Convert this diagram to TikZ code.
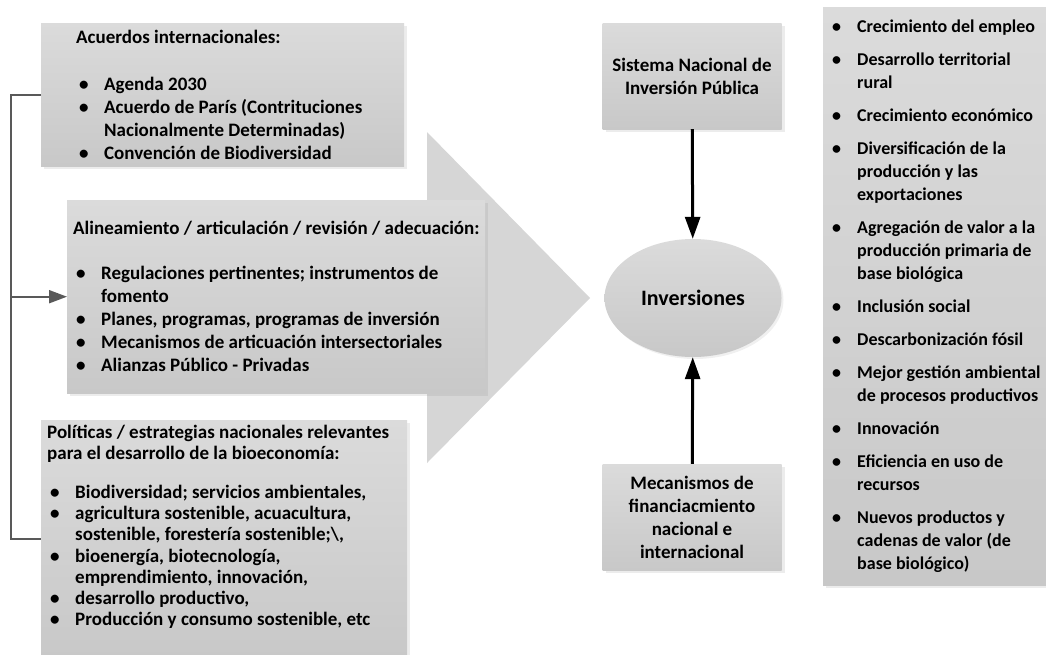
\documentclass[tikz,border=0pt]{standalone}
\usepackage{fontspec}
\setmainfont{Carlito}
\usepackage{tikz}
\usetikzlibrary{arrows.meta,positioning,calc,shapes.geometric,shadows}
\definecolor{paneltop}{HTML}{DBDBDB}
\definecolor{panelbot}{HTML}{C8C8C8}
\definecolor{arrowgray}{HTML}{D6D6D6}
\definecolor{linkgray}{HTML}{595959}
\newcommand{\itm}{\makebox[28pt][l]{\hspace{3pt}\textbullet}}
\newcommand{\cnt}{\hspace*{28pt}}

\begin{document}
\begin{tikzpicture}[x=1pt,y=-1pt,
  font=\fontsize{19}{23}\selectfont\bfseries,
  panel/.style={anchor=north west,top color=paneltop,bottom color=panelbot,
    drop shadow={shadow xshift=3pt,shadow yshift=-3pt,opacity=0.15},
    align=flush left,inner ysep=0pt},
  cbox/.style={top color=paneltop,bottom color=panelbot,
    drop shadow={shadow xshift=3pt,shadow yshift=-3pt,opacity=0.15},
    align=center,minimum width=179,minimum height=106,inner sep=2pt},
  oval/.style={ellipse,top color=paneltop,bottom color=panelbot,
    drop shadow={shadow xshift=2pt,shadow yshift=-2pt,opacity=0.12},
    minimum width=177,minimum height=118,font=\fontsize{22}{26}\selectfont\bfseries},
  link/.style={draw=linkgray,line width=2pt},
  push/.style={-{Triangle[length=22pt,width=15pt]},line width=3pt,draw=black}
]
  \useasboundingbox (0,0) rectangle (1046,654);
  \clip (0,0) rectangle (1046,654);

  \fill[arrowgray] (67,200) -- (427,200) -- (427,132) -- (590,298)
    -- (427,463) -- (427,393) -- (67,393) -- cycle;

  \node[panel,minimum width=363,minimum height=143,inner xsep=35,text width=293]
    (acuerdos) at (41,23)
    {Acuerdos internacionales:\\[24pt]
     \itm Agenda 2030\\
     \itm \mbox{Acuerdo de París (Contrituciones}\\
     \cnt Nacionalmente Determinadas)\\
     \itm Convención de Biodiversidad};
  \node[panel,minimum width=418,minimum height=193,inner xsep=6,text width=406]
    (alineamiento) at (67,200)
    {\mbox{Alineamiento / articulación / revisión / adecuación:}\\[22pt]
     \itm Regulaciones pertinentes; instrumentos de\\
     \cnt fomento\\
     \itm Planes, programas, programas de inversión\\
     \itm \mbox{Mecanismos de articuación intersectoriales}\\
     \itm Alianzas Público - Privadas};
  \node[panel,minimum width=366,inner xsep=6,inner ysep=5,text width=354,
    font=\fontsize{19}{21.3}\selectfont\bfseries]
    (politicas) at (41,420)
    {\mbox{Políticas / estrategias nacionales relevantes}\\
     para el desarrollo de la bioeconomía:\\[17pt]
     \itm Biodiversidad; servicios ambientales,\\
     \itm agricultura sostenible, acuacultura,\\
     \cnt sostenible, forestería sostenible;\textbackslash,\\
     \itm bioenergía, biotecnología,\\
     \cnt emprendimiento, innovación,\\
     \itm desarrollo productivo,\\
     \itm Producción y consumo sostenible, etc\rule[-27pt]{0pt}{0pt}};

  \coordinate (spine) at ([xshift=-30pt]acuerdos.west);
  \draw[link] (acuerdos.west) -- (spine) |- (politicas.west);
  \draw[link,-{Triangle[length=18pt,width=13pt]}] (spine |- alineamiento.west)
    -- (alineamiento.west);

  \node[cbox] (sistema) at (692,76) {Sistema Nacional de\\Inversión Pública};
  \node[oval] (inversiones) at (693,298) {Inversiones};
  \node[cbox] (mecanismos) at (692,517)
    {Mecanismos de\\financiacmiento\\nacional e\\internacional};
  \draw[push] (sistema) -- (inversiones);
  \draw[push] (mecanismos) -- (inversiones);

  \node[panel,minimum width=320,minimum height=578,inner xsep=6,text width=308,
    font=\fontsize{18}{23}\selectfont\bfseries]
    (resultados) at (823,7)
    {\itm Crecimiento del empleo\\[10pt]
     \itm Desarrollo territorial\\
     \cnt rural\\[10pt]
     \itm Crecimiento económico\\[10pt]
     \itm Diversificación de la\\
     \cnt producción y las\\
     \cnt exportaciones\\[10pt]
     \itm Agregación de valor a la\\
     \cnt producción primaria de\\
     \cnt base biológica\\[10pt]
     \itm Inclusión social\\[10pt]
     \itm Descarbonización fósil\\[10pt]
     \itm Mejor gestión ambiental\\
     \cnt de procesos productivos\\[10pt]
     \itm Innovación\\[10pt]
     \itm Eficiencia en uso de\\
     \cnt recursos\\[10pt]
     \itm Nuevos productos y\\
     \cnt cadenas de valor (de\\
     \cnt base biológico)};
\end{tikzpicture}
\end{document}
